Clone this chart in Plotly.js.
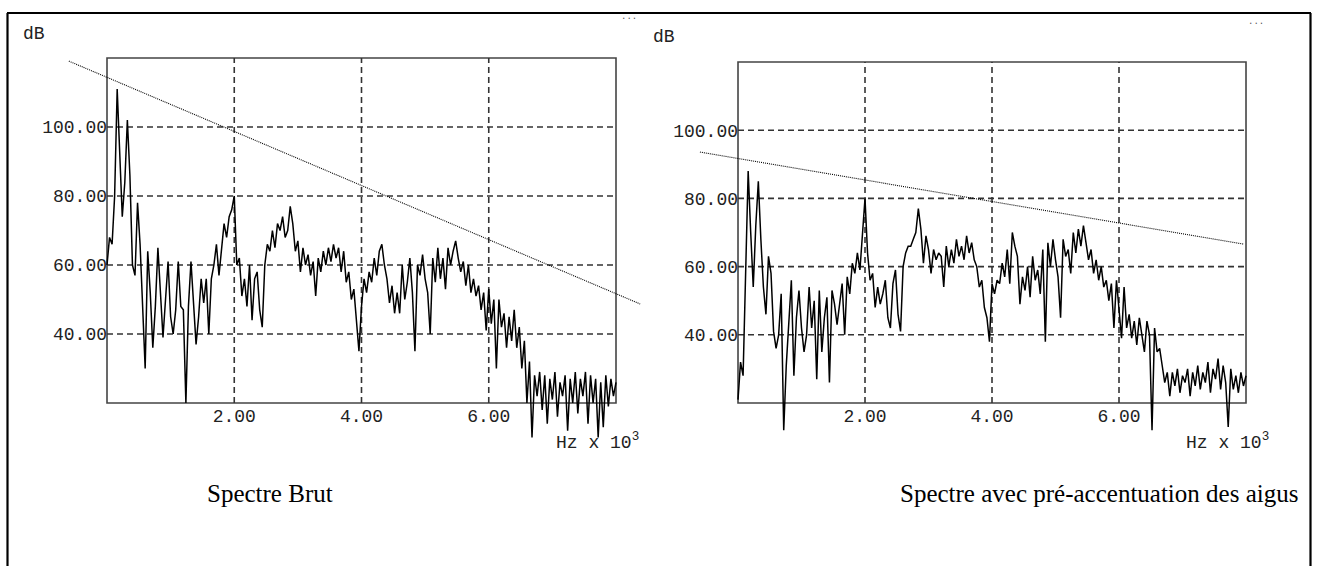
<!DOCTYPE html>
<html>
<head>
<meta charset="utf-8">
<script src="https://cdn.plot.ly/plotly-3.0.1.min.js"></script>
<style>
html,body{margin:0;padding:0;background:#fff;}
#chart{width:1317px;height:566px;}
</style>
</head>
<body>
<div id="chart"></div>
<script>
// ---------------- DATA ----------------
const freqStepKHz = 0.04; // spectral bin spacing (kHz)

const spectreBrutDb = [
  60, 68, 66, 80, 111, 92, 74, 84, 102, 86,
  60, 57, 78, 66, 49, 30, 64, 52, 36, 48,
  65, 52, 39, 50, 61, 45, 40, 47, 61, 48,
  47, 20, 48, 61, 50, 37, 45, 56, 49, 56,
  40, 56, 60, 66, 57, 64, 72, 68, 74, 76,
  80, 60, 62, 51, 56, 48, 60, 44, 56, 58,
  47, 42, 60, 66, 64, 70, 65, 72, 70, 74,
  68, 70, 77, 72, 64, 67, 58, 65, 60, 63,
  57, 61, 51, 62, 58, 64, 60, 65, 61, 66,
  62, 65, 58, 64, 55, 58, 50, 53, 44, 35,
  48, 56, 52, 58, 55, 62, 57, 64, 66, 60,
  56, 49, 54, 46, 52, 46, 60, 50, 55, 62,
  52, 35, 60, 57, 63, 56, 52, 40, 62, 55,
  65, 56, 62, 53, 65, 60, 64, 67, 62, 58,
  61, 54, 60, 52, 56, 51, 54, 47, 52, 41,
  53, 43, 50, 30, 50, 42, 46, 36, 45, 38,
  47, 36, 42, 30, 38, 20, 32, 10, 28, 22,
  29, 18, 28, 14, 27, 21, 29, 16, 26, 22,
  28, 12, 27, 20, 29, 17, 27, 22, 29, 14,
  28, 20, 27, 10, 26, 13, 28, 19, 27, 22,
  26
];

const spectreAccentDb = [
  21, 32, 28, 56, 88, 70, 54, 72, 85, 68,
  54, 46, 63, 58, 41, 36, 40, 52, 12, 31,
  44, 56, 28, 45, 53, 42, 35, 40, 54, 42,
  50, 27, 53, 35, 45, 51, 26, 53, 49, 43,
  49, 55, 40, 57, 52, 61, 58, 64, 59, 70,
  80, 64, 56, 58, 48, 54, 49, 52, 56, 45,
  42, 55, 59, 46, 41, 60, 64, 66, 66, 68,
  70, 77, 71, 61, 69, 65, 58, 65, 62, 64,
  63, 54, 66, 60, 65, 61, 68, 63, 66, 62,
  69, 64, 67, 62, 60, 54, 56, 48, 45, 38,
  55, 52, 56, 55, 61, 57, 65, 55, 70, 66,
  63, 49, 57, 53, 60, 51, 63, 56, 59, 52,
  65, 38, 67, 60, 68, 62, 57, 45, 68, 63,
  65, 58, 70, 64, 71, 66, 72, 67, 62, 65,
  58, 62, 56, 60, 54, 56, 50, 55, 42, 56,
  48, 39, 54, 42, 46, 39, 44, 37, 45, 40,
  35, 44, 40, 12, 42, 35, 36, 31, 26, 29,
  22, 29, 25, 30, 23, 28, 26, 30, 22, 29,
  25, 31, 24, 29, 26, 32, 23, 30, 27, 33,
  24, 31, 26, 13, 30, 24, 28, 23, 29, 25,
  28
];

// dotted reference slopes (endpoints)
const penteBrutX = [-0.6, 8.38];
const penteBrutY = [119.1, 48.7];
const penteAccentX = [-0.6, 7.96];
const penteAccentY = [93.6, 66.6];

// axes
const xTickVals = [2, 4, 6];
const xTickText = ['2.00', '4.00', '6.00'];
const yTickVals = [40, 60, 80, 100];
const yTickText = ['40.00', '60.00', '80.00', '100.00'];
const xFrame = [0, 8];     // kHz
const yFrame = [20, 120];  // dB

const captions = ['Spectre Brut', 'Spectre avec pré-accentuation des aigus'];
const yUnit = 'dB';
const xUnit = 'Hz x 10<sup>3</sup>';

// ---------------- LAYOUT ----------------
const W = 1317, H = 566;
const panels = [
  {box: {x0: 107, x1: 616, y0: 58, y1: 403}, ext: {x: [-0.75, 8.5], y: [6, 122]},
   values: spectreBrutDb, slopeX: penteBrutX, slopeY: penteBrutY,
   dB: {x: 21, y: 34}, dots: {x: 629, y: 17}, unit: {x: 641, y: 441}, cap: {x: 205, y: 493}},
  {box: {x0: 738, x1: 1246, y0: 62, y1: 403}, ext: {x: [-0.75, 8.3], y: [6, 122]},
   values: spectreAccentDb, slopeX: penteAccentX, slopeY: penteAccentY,
   dB: {x: 651, y: 37}, dots: {x: 1256, y: 22}, unit: {x: 1271, y: 441}, cap: {x: 898, y: 493}}
];

const px2x = p => p / W;
const py2y = p => 1 - p / H;
const monoFont = {family: 'Liberation Mono, DejaVu Sans Mono, monospace', size: 18, color: '#222'};
const gridStyle = {color: '#333', width: 1.6, dash: '6px,4px'};

const traces = [];
const layout = {
  width: W, height: H,
  margin: {l: 0, r: 0, t: 0, b: 0},
  paper_bgcolor: '#fff', plot_bgcolor: 'rgba(0,0,0,0)',
  showlegend: false,
  shapes: [],
  annotations: []
};

panels.forEach((p, k) => {
  const sfx = k === 0 ? '' : String(k + 1);
  const xa = 'x' + sfx, ya = 'y' + sfx;
  const sx = (p.box.x1 - p.box.x0) / (xFrame[1] - xFrame[0]);
  const sy = (p.box.y1 - p.box.y0) / (yFrame[1] - yFrame[0]);
  const pxL = p.box.x0 + (p.ext.x[0] - xFrame[0]) * sx;
  const pxR = p.box.x0 + (p.ext.x[1] - xFrame[0]) * sx;
  const pyB = p.box.y1 - (p.ext.y[0] - yFrame[0]) * sy;
  const pyT = p.box.y1 - (p.ext.y[1] - yFrame[0]) * sy;

  layout['xaxis' + sfx] = {
    domain: [px2x(pxL), px2x(pxR)], range: p.ext.x, fixedrange: true,
    anchor: 'free', position: py2y(p.box.y1),
    showgrid: false, zeroline: false, showline: false, ticks: '',
    tickmode: 'array', tickvals: xTickVals, ticktext: xTickText,
    tickfont: monoFont
  };
  layout['yaxis' + sfx] = {
    domain: [py2y(pyB), py2y(pyT)], range: p.ext.y, fixedrange: true,
    anchor: 'free', position: px2x(p.box.x0),
    showgrid: false, zeroline: false, showline: false, ticks: '',
    tickmode: 'array', tickvals: yTickVals, ticktext: yTickText,
    tickfont: monoFont
  };

  // frame
  layout.shapes.push({type: 'rect', xref: xa, yref: ya, x0: xFrame[0], x1: xFrame[1],
    y0: yFrame[0], y1: yFrame[1], line: {color: '#444', width: 1.6}, layer: 'below'});
  // dashed grid
  yTickVals.forEach(v => layout.shapes.push({type: 'line', xref: xa, yref: ya,
    x0: xFrame[0], x1: xFrame[1], y0: v, y1: v, line: gridStyle, layer: 'below'}));
  xTickVals.forEach(v => layout.shapes.push({type: 'line', xref: xa, yref: ya,
    x0: v, x1: v, y0: yFrame[0], y1: yFrame[1], line: gridStyle, layer: 'below'}));

  const freq = p.values.map((_, i) => +(i * freqStepKHz).toFixed(2));
  traces.push({type: 'scatter', mode: 'lines', x: freq, y: p.values, xaxis: xa, yaxis: ya,
    line: {color: '#000', width: 1.5}, hoverinfo: 'skip'});
  traces.push({type: 'scatter', mode: 'lines', x: p.slopeX, y: p.slopeY, xaxis: xa, yaxis: ya,
    line: {color: '#000', width: 1.1, dash: '1px,1px'}, hoverinfo: 'skip'});

  layout.annotations.push(
    {xref: 'paper', yref: 'paper', x: px2x(p.dB.x), y: py2y(p.dB.y), xanchor: 'left', yanchor: 'middle',
     text: yUnit, showarrow: false, font: monoFont},
    {xref: 'paper', yref: 'paper', x: px2x(p.dots.x), y: py2y(p.dots.y), xanchor: 'center', yanchor: 'middle',
     text: '...', showarrow: false, font: {family: 'Liberation Mono, monospace', size: 9, color: '#555'}},
    {xref: 'paper', yref: 'paper', x: px2x(p.unit.x), y: py2y(p.unit.y), xanchor: 'right', yanchor: 'middle',
     text: xUnit, showarrow: false, font: monoFont},
    {xref: 'paper', yref: 'paper', x: px2x(p.cap.x), y: py2y(p.cap.y), xanchor: 'left', yanchor: 'middle',
     text: captions[k], showarrow: false,
     font: {family: 'Liberation Serif, Times New Roman, serif', size: 25, color: '#000'}}
  );
});

// outer page frame (open at the bottom)
const frameLine = {color: '#000', width: 2.2};
layout.shapes.push(
  {type: 'line', xref: 'paper', yref: 'paper', x0: px2x(7), x1: px2x(1311), y0: py2y(13), y1: py2y(13), line: frameLine},
  {type: 'line', xref: 'paper', yref: 'paper', x0: px2x(7.5), x1: px2x(7.5), y0: py2y(13), y1: 0, line: frameLine},
  {type: 'line', xref: 'paper', yref: 'paper', x0: px2x(1310.5), x1: px2x(1310.5), y0: py2y(13), y1: 0, line: frameLine}
);

Plotly.newPlot('chart', traces, layout, {displayModeBar: false, staticPlot: true, responsive: false});
</script>
</body>
</html>
